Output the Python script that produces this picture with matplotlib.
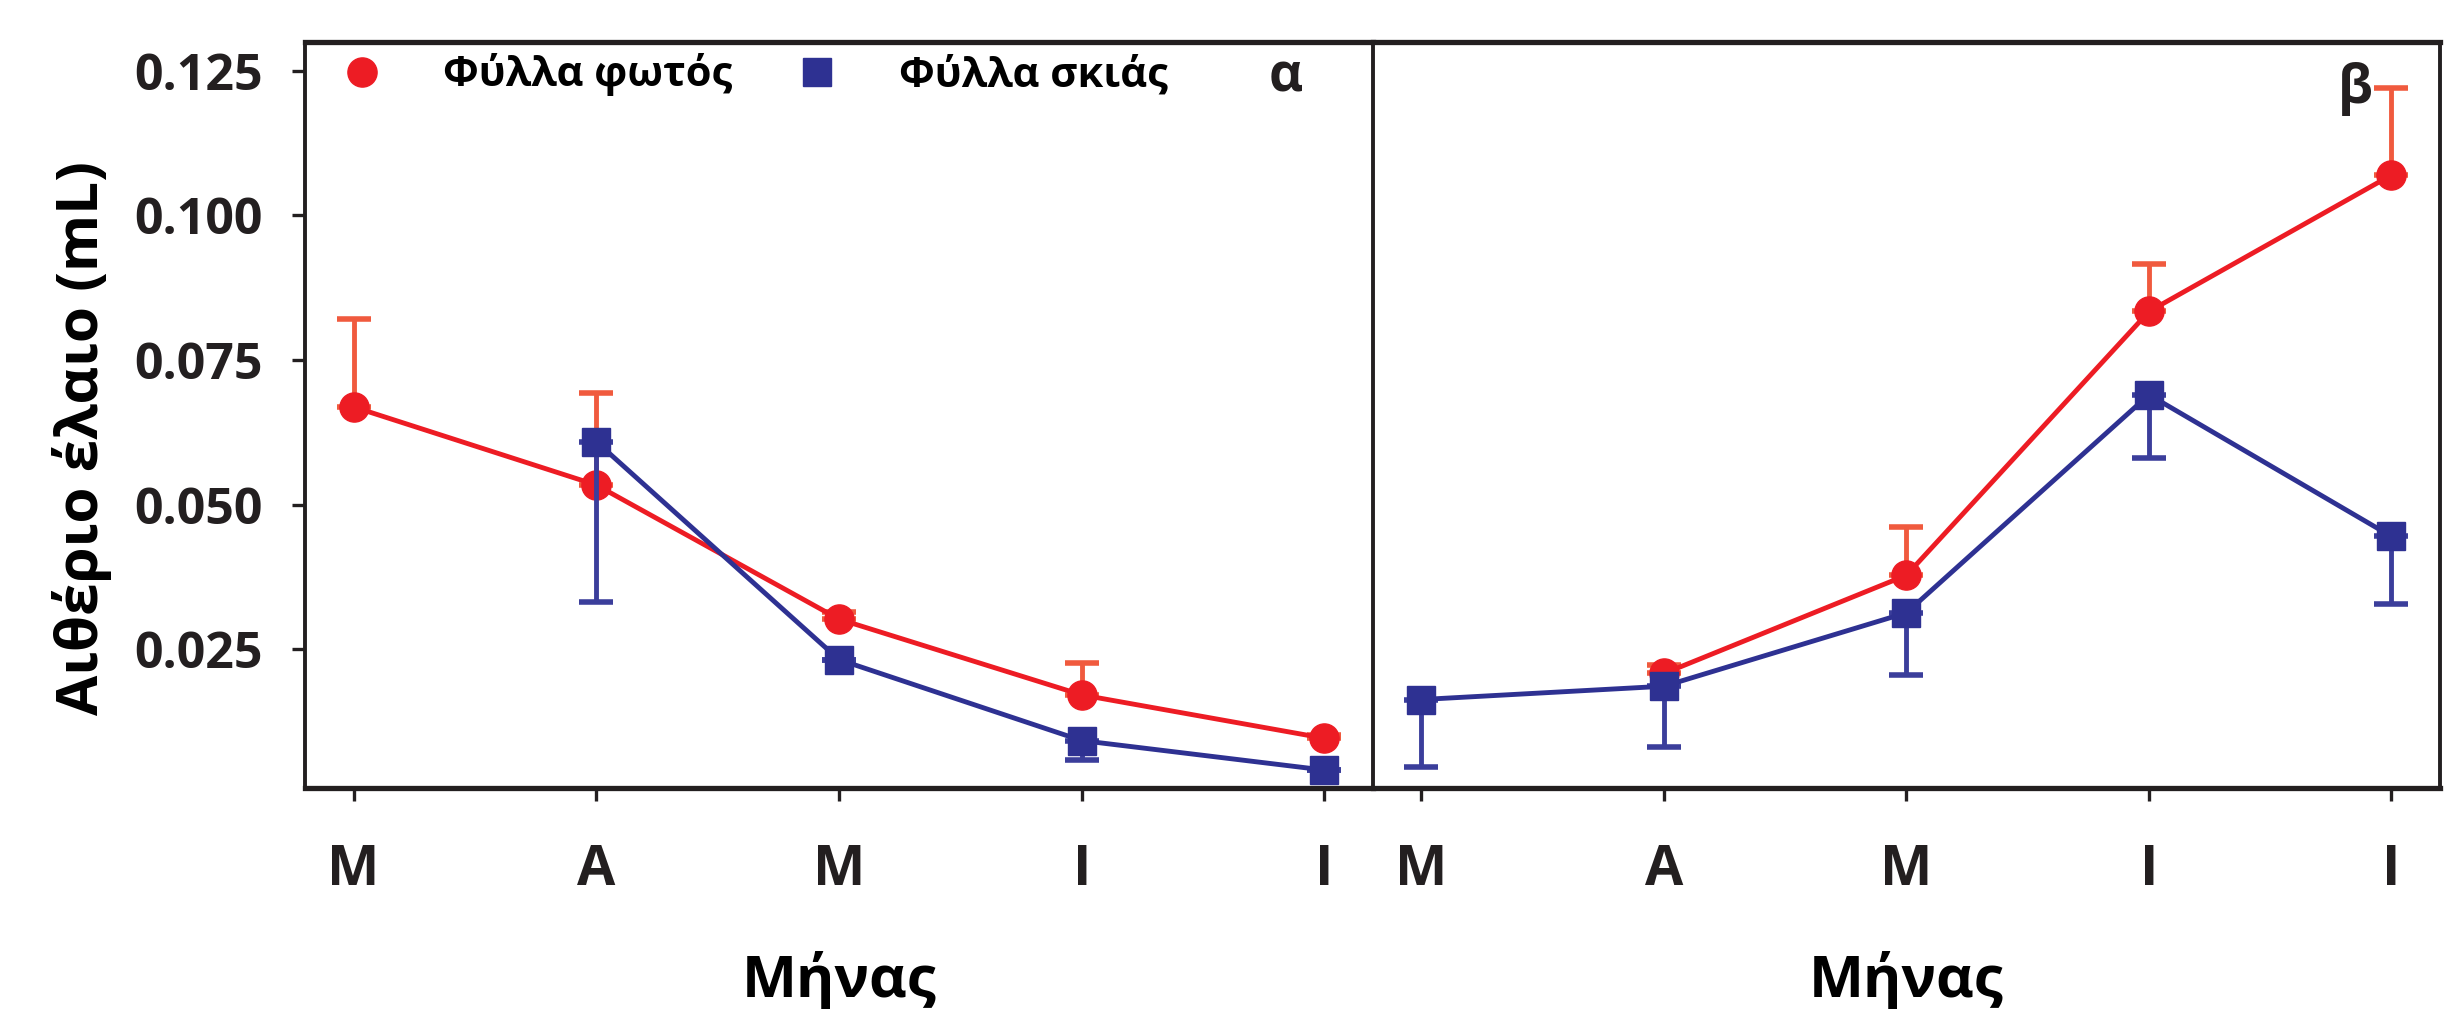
import numpy as np
import matplotlib
matplotlib.use("Agg")
import matplotlib.pyplot as plt
from matplotlib.lines import Line2D

plt.rcParams['font.family'] = ['Open Sans', 'DejaVu Sans']
plt.rcParams['font.weight'] = 'bold'

# data
months = ['M', 'A', 'M', 'I', 'I']
series_names = ['Φύλλα φωτός', 'Φύλλα σκιάς']
panel_tags = ['α', 'β']

# panel α
sun_a = [0.0669, 0.0534, 0.0302, 0.0171, 0.0096]
sun_a_err = [0.0152, 0.0159, 0.0012, 0.0056, 0.0006]
shade_a = [np.nan, 0.0609, 0.0232, 0.0092, 0.0041]
shade_a_err = [0.0, 0.0277, 0.0, 0.0034, 0.0]

# panel β
sun_b = [np.nan, 0.0208, 0.0378, 0.0834, 0.1070]
sun_b_err = [0.0, 0.0014, 0.0084, 0.0082, 0.0150]
shade_b = [0.0163, 0.0186, 0.0313, 0.0690, 0.0445]
shade_b_err = [0.0116, 0.0105, 0.0107, 0.0110, 0.0117]

RED = '#ED1C24'
RED_ERR = '#F05A3E'
BLUE = '#2E3192'
BLUE_ERR = '#3B3E9B'
INK = '#231F20'

fig = plt.figure(figsize=(24.58, 10.09), dpi=100)
ax1 = fig.add_axes([0.12408, 0.21903, 0.43450, 0.73934])
ax2 = fig.add_axes([0.55858, 0.21903, 0.43409, 0.73934], sharey=ax1)

x = np.arange(len(months))


def draw_panel(ax, sun, sun_err, shade, shade_err):
    sun = np.array(sun)
    shade = np.array(shade)
    ax.errorbar(x, sun, yerr=[np.zeros(len(x)), sun_err], fmt='none',
                ecolor=RED_ERR, elinewidth=3.5, capsize=12, capthick=4, zorder=2)
    ax.plot(x, sun, color=RED, lw=3.5, marker='o', ms=21, zorder=3)
    ax.errorbar(x, shade, yerr=[shade_err, np.zeros(len(x))], fmt='none',
                ecolor=BLUE_ERR, elinewidth=3.5, capsize=12, capthick=4, zorder=4)
    ax.plot(x, shade, color=BLUE, lw=3.5, marker='s', ms=19.5, zorder=5)
    ax.set_xlim(-0.2, 4.2)
    ax.set_xticks(x)
    ax.set_xticklabels(months)
    ax.tick_params(axis='x', direction='out', length=9.5, width=2.4,
                   pad=30, labelsize=40, colors=INK)
    for side in ['top', 'bottom']:
        ax.spines[side].set_linewidth(3.8)
        ax.spines[side].set_color(INK)
    for side in ['left', 'right']:
        ax.spines[side].set_linewidth(2.8)
        ax.spines[side].set_color(INK)
    ax.set_xlabel('Μήνας', fontsize=42, fontweight='bold', va='baseline')
    ax.xaxis.set_label_coords(0.5, -0.2802)


draw_panel(ax1, sun_a, sun_a_err, shade_a, shade_a_err)
draw_panel(ax2, sun_b, sun_b_err, shade_b, shade_b_err)

ax1.set_ylim(0.001, 0.13)
ax1.set_yticks([0.025, 0.050, 0.075, 0.100, 0.125])
ax1.set_yticklabels(['0.025', '0.050', '0.075', '0.100', '0.125'])
ax1.tick_params(axis='y', direction='out', length=9.5, width=2.4, pad=21,
                labelsize=36, colors=INK)
ax1.spines['right'].set_visible(False)
ax2.tick_params(axis='y', left=False, labelleft=False)

ax1.set_ylabel('Αιθέριο έλαιο (mL)', fontsize=42, fontweight='bold',
               va='baseline', ha='center')
ax1.yaxis.set_label_coords(-0.1938, 0.469)

handles = [
    Line2D([], [], color=RED, marker='o', ms=21, ls='none'),
    Line2D([], [], color=BLUE, marker='s', ms=19.5, ls='none'),
]
ax1.legend(handles, series_names, loc='center left',
           bbox_to_anchor=(0.0337, 0.9558), ncol=2, frameon=False,
           fontsize=30, handlelength=1.0, handletextpad=1.46,
           columnspacing=1.53, borderpad=0, borderaxespad=0)

ax1.text(0.9185, 0.933, panel_tags[0], transform=ax1.transAxes,
         fontsize=38, fontweight='bold', ha='center', va='baseline', color=INK)
ax2.text(0.921, 0.918, panel_tags[1], transform=ax2.transAxes,
         fontsize=38, fontweight='bold', ha='center', va='baseline', color=INK)

fig.savefig('out.png', dpi=100)
